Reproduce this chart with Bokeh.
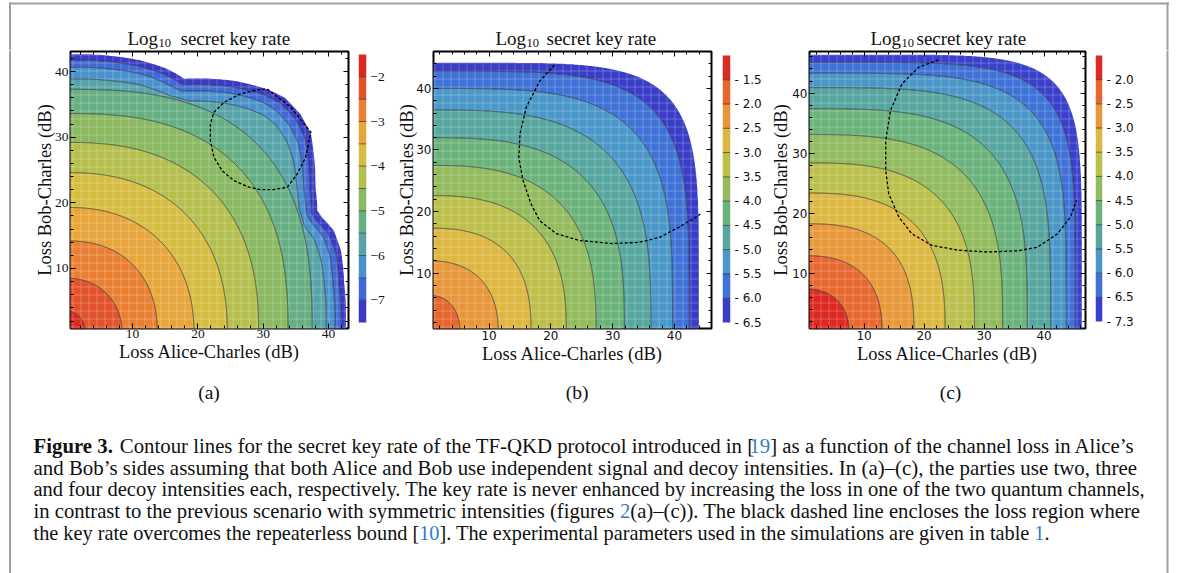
import numpy as np
from bokeh.plotting import figure
from bokeh.layouts import row, column
from bokeh.models import Range1d, LinearAxis, SingleIntervalTicker, FixedTicker
from bokeh.embed import file_html
from bokeh.resources import INLINE
from bokeh.core.properties import value

SERIF = "Liberation Serif"
SANS = "DejaVu Sans"
INK = "#111111"
LINE_INK = "#2a2a2a"
FRAME_GRAY = "#a0a0a0"
LINK_BLUE = "#2f7fc1"
MID = 0.3375   # distance from baseline to the middle of the text box, in em

# ====================== DATA ======================
X_LABEL = "Loss Alice-Charles (dB)"
Y_LABEL = "Loss Bob-Charles (dB)"
# panel titles: "Log" + subscript "10" + rest, with left positions (page pixels)
TITLE_MAIN = "Log"
TITLE_SUB = "10"
TITLE_REST = "secret key rate"
TITLE_LOG_X = [127, 495, 870]
TITLE_SUB_X = [158, 526, 901]
TITLE_REST_X = [180, 546, 916]
PANEL_TAGS = ["(a)", "(b)", "(c)"]
PANEL_TAG_X = [208.5, 576.7, 950.0]

# ---------- panel (a): two decoy intensities ----------
A_XRANGE = (0.5, 43.05)
A_YRANGE = (0.86, 43.05)
A_LEVELS = [-7.5, -7.0, -6.5, -6.0, -5.5, -5.0, -4.5, -4.0, -3.5, -3.0, -2.5, -2.0, -1.5]
A_COLORS = ["#3b3ac6", "#3f69d6", "#4a92cd", "#57a4a8", "#66af82", "#8bb962",
            "#b4bf4e", "#d6bd43", "#e7a63c", "#e97f32", "#e2532b", "#d92a22"]
A_PEAK = -1.6
A_CB_TICKS = [-7, -6, -5, -4, -3, -2]
A_CB_LABELS = ["−7", "−6", "−5", "−4", "−3", "−2"]
# rounded inner contours: crossing with bottom edge, left edge and diagonal
A_IN_LEVELS = [-5.5, -5.0, -4.5, -4.0, -3.5, -3.0, -2.5, -2.0]
A_IN_XCROSS = [37.5, 33.8, 29.3, 24.5, 19.4, 13.8, 8.4, 2.8]
A_IN_YCROSS = [37.3, 33.6, 29.2, 24.6, 19.3, 14.2, 8.5, 3.5]
A_IN_DIAG = [29.0, 25.8, 22.0, 18.2, 14.2, 10.3, 6.1, 2.2]
# outer contours traced point by point (level -7.5 is the edge of the coloured region)
A_L75_X = [0, 6.6, 11.2, 14.8, 16.3, 17.9, 25.5, 28.6, 30.6, 33.2, 35.7, 37.3, 38.0, 38.3, 39.0, 40.8, 41.9, 42.4, 42.6]
A_L75_Y = [42.6, 42.4, 41.7, 40.6, 39.9, 38.9, 38.6, 37.9, 37.3, 36.1, 33.5, 30.5, 22.4, 18.8, 17.8, 15.8, 12.7, 7.7, 0]
A_L70_X = [0, 6.5, 11.0, 14.5, 16.0, 17.6, 25.0, 28.3, 30.3, 32.6, 34.9, 36.4, 37.1, 37.4, 38.2, 40.0, 41.1, 41.6, 41.9]
A_L70_Y = [41.7, 41.5, 40.8, 39.7, 39.0, 38.0, 37.7, 37.0, 36.4, 35.2, 32.8, 29.9, 22.3, 18.4, 17.2, 15.2, 12.4, 7.5, 0]
A_L65_X = [0, 6.5, 11.0, 14.0, 15.8, 17.5, 25.0, 28.0, 30.0, 32.0, 34.0, 35.4, 36.2, 36.6, 37.4, 39.2, 40.2, 40.7, 40.9]
A_L65_Y = [40.6, 40.4, 39.7, 38.7, 37.8, 37.0, 36.7, 36.0, 35.3, 34.0, 31.8, 29.0, 22.2, 18.3, 17.0, 14.8, 12.0, 7.3, 0]
A_L60_X = [0, 6.5, 11.0, 14.0, 16.0, 18.0, 24.0, 27.5, 30.0, 32.0, 33.6, 34.6, 35.2, 35.5, 36.2, 37.8, 38.8, 39.4, 39.6]
A_L60_Y = [38.8, 38.6, 38.0, 37.0, 36.2, 35.5, 35.2, 34.4, 33.4, 31.8, 29.4, 26.5, 22.0, 18.2, 16.6, 14.4, 11.5, 7.0, 0]
# repeaterless-bound region (dashed)
A_BOUND_X = [30.6, 34.2, 37.3, 36.5, 35.2, 33.7, 31.6, 29.6, 27.8, 25.5, 23.7, 22.45, 21.9, 21.9, 22.45, 24.0, 26.5, 29.1, 30.6]
A_BOUND_Y = [37.35, 34.6, 30.75, 26.95, 24.4, 22.4, 22.0, 22.0, 22.4, 23.4, 24.9, 26.95, 29.5, 32.0, 33.8, 35.3, 36.6, 37.2, 37.35]

# ---------- panel (b): three decoy intensities ----------
B_XRANGE = (1.0, 46.0)
B_YRANGE = (1.0, 46.0)
B_LEVELS = [-6.5, -6.0, -5.5, -5.0, -4.5, -4.0, -3.5, -3.0, -2.5, -2.0, -1.5, -1.0]
B_COLORS = ["#3a3dc8", "#3f72d6", "#4a97c9", "#57a6a0", "#6cb37b", "#93bb5d",
            "#bdbf4b", "#ddb741", "#e8963a", "#e6662e", "#d92b22"]
B_PEAK = -1.6
B_CB_TICKS = [-6.5, -6.0, -5.5, -5.0, -4.5, -4.0, -3.5, -3.0, -2.5, -2.0, -1.5]
B_CB_LABELS = ["- 6.5", "- 6.0", "- 5.5", "- 5.0", "- 4.5", "- 4.0", "- 3.5", "- 3.0", "- 2.5", "- 2.0", "- 1.5"]
B_CONT_LEVELS = [-6.5, -6.0, -5.5, -5.0, -4.5, -4.0, -3.5, -3.0, -2.5, -2.0]
B_XCROSS = [44.0, 42.4, 39.7, 36.2, 31.9, 27.3, 22.5, 16.8, 11.5, 5.3]
B_YCROSS = [44.2, 42.8, 40.0, 36.5, 32.0, 27.5, 22.6, 17.3, 12.0, 6.4]
B_DIAG = [38.8, 36.5, 33.2, 29.3, 25.4, 21.4, 17.4, 13.1, 8.8, 4.3]
B_BOUND_X = [20.6, 18.2, 16.0, 15.0, 14.8, 15.5, 16.8, 18.2, 20.9, 24.6, 30.0, 34.3, 37.6, 40.8, 43.5, 44.2]
B_BOUND_Y = [43.8, 41.2, 36.9, 32.6, 28.8, 25.0, 21.2, 18.5, 16.4, 15.3, 14.8, 15.0, 15.8, 17.5, 19.1, 19.6]

# ---------- panel (c): four decoy intensities ----------
C_XRANGE = (0.9, 46.9)
C_YRANGE = (0.9, 46.9)
C_LEVELS = [-7.3, -6.5, -6.0, -5.5, -5.0, -4.5, -4.0, -3.5, -3.0, -2.5, -2.0, -1.5]
C_COLORS = ["#3a40cb", "#3f72d6", "#4a96c7", "#57a59f", "#6bb37c", "#91bb5e",
            "#bbbf4b", "#dcb842", "#e8983a", "#e7682f", "#dc2a22"]
C_PEAK = -1.6
C_CB_TICKS = [-7.3, -6.5, -6.0, -5.5, -5.0, -4.5, -4.0, -3.5, -3.0, -2.5, -2.0]
C_CB_LABELS = ["- 7.3", "- 6.5", "- 6.0", "- 5.5", "- 5.0", "- 4.5", "- 4.0", "- 3.5", "- 3.0", "- 2.5", "- 2.0"]
C_CONT_LEVELS = [-7.3, -6.5, -6.0, -5.5, -5.0, -4.5, -4.0, -3.5, -3.0, -2.5, -2.0]
C_XCROSS = [46.3, 45.2, 43.7, 41.1, 37.2, 33.1, 28.4, 23.5, 18.3, 13.0, 7.5]
C_YCROSS = [46.4, 45.1, 43.3, 40.9, 37.4, 33.1, 28.4, 23.4, 18.3, 13.0, 7.5]
C_DIAG = [41.7, 39.8, 37.4, 34.5, 30.6, 26.6, 22.5, 18.3, 14.2, 9.85, 5.55]
C_BOUND_X = [22.4, 19.1, 16.3, 14.4, 13.6, 13.6, 14.1, 15.8, 18.0, 21.3, 25.7, 30.6, 35.6, 38.9, 42.2, 44.4, 45.4]
C_BOUND_Y = [45.5, 44.3, 41.5, 37.1, 32.1, 27.2, 23.3, 19.4, 16.6, 14.7, 13.9, 13.6, 13.8, 14.4, 16.6, 19.4, 22.2]

# ---------- caption (segments: text, advance in em, weight, colour) ----------
CAPTION_LINES = [
    [("Figure 3.", 4.15, "bold", INK),
     ("Contour lines for the secret key rate of the TF-QKD protocol introduced in [", 30.27, "normal", INK),
     ("19", 1.0, "normal", LINK_BLUE),
     ("] as a function of the channel loss in Alice’s", 17.5, "normal", INK)],
    [("and Bob’s sides assuming that both Alice and Bob use independent signal and decoy intensities. In (a)–(c), the parties use two, three", 52.8, "normal", INK)],
    [("and four decoy intensities each, respectively. The key rate is never enhanced by increasing the loss in one of the two quantum channels,", 54.2, "normal", INK)],
    [("in contrast to the previous scenario with symmetric intensities (figures ", 28.4, "normal", INK),
     ("2", 0.5, "normal", LINK_BLUE),
     ("(a)–(c)). The black dashed line encloses the loss region where", 24.65, "normal", INK)],
    [("the key rate overcomes the repeaterless bound [", 19.0, "normal", INK),
     ("10", 1.0, "normal", LINK_BLUE),
     ("]. The experimental parameters used in the simulations are given in table ", 29.3, "normal", INK),
     ("1", 0.5, "normal", LINK_BLUE),
     (".", 0.25, "normal", INK)],
]
CAPTION_SIZES = [20.8, 20.9, 20.5, 20.65, 20.3]
CAPTION_BASELINES = [452.5, 474.2, 495.9, 517.6, 539.3]
CAPTION_LEFT = 33

# ====================== FIELD CONSTRUCTION ======================
GRID = np.linspace(0.0, 48.0, 481)


def solve_p(a, b, d):
    lo, hi = 0.3, 30.0
    for _ in range(80):
        p = 0.5 * (lo + hi)
        f = (d / a) ** p + (d / b) ** p - 1.0
        if f > 0:
            lo = p
        else:
            hi = p
    return 0.5 * (lo + hi)


def super_radius(a, b, d):
    p = solve_p(a, b, d)

    def f(th):
        c = np.abs(np.cos(th))
        s = np.abs(np.sin(th))
        return ((c / a) ** p + (s / b) ** p) ** (-1.0 / p)
    return f


def poly_radius(xs, ys):
    xs = np.asarray(xs, float)
    ys = np.asarray(ys, float)
    th = np.arctan2(ys, xs)
    r = np.hypot(xs, ys)
    o = np.argsort(th)

    def f(t):
        return np.interp(t, th[o], r[o])
    return f


def build_z(funcs, levels, peak):
    # funcs/levels ordered from the outermost contour to the innermost one
    X, Y = np.meshgrid(GRID, GRID)
    TH = np.arctan2(Y, X)
    R = np.hypot(X, Y)
    Rs = [f(TH) for f in funcs][::-1]
    L = list(levels)[::-1]
    for i in range(1, len(Rs)):
        Rs[i] = np.maximum(Rs[i], Rs[i - 1] + 0.3)
    Z = peak + (L[0] - peak) * R / Rs[0]
    for i in range(len(Rs) - 1):
        m = (R > Rs[i]) & (R <= Rs[i + 1])
        t = (R - Rs[i]) / (Rs[i + 1] - Rs[i])
        Z = np.where(m, L[i] + t * (L[i + 1] - L[i]), Z)
    Z = np.where(R > Rs[-1], L[-1] - 0.02 - (R - Rs[-1]) * 0.3, Z)
    return Z


A_FUNCS = [poly_radius(A_L75_X, A_L75_Y), poly_radius(A_L70_X, A_L70_Y),
           poly_radius(A_L65_X, A_L65_Y), poly_radius(A_L60_X, A_L60_Y)]
A_FUNCS += [super_radius(a, b, d) for a, b, d in zip(A_IN_XCROSS, A_IN_YCROSS, A_IN_DIAG)]
A_Z = build_z(A_FUNCS, [-7.5, -7.0, -6.5, -6.0] + A_IN_LEVELS, A_PEAK)
B_Z = build_z([super_radius(a, b, d) for a, b, d in zip(B_XCROSS, B_YCROSS, B_DIAG)], B_CONT_LEVELS, B_PEAK)
C_Z = build_z([super_radius(a, b, d) for a, b, d in zip(C_XCROSS, C_YCROSS, C_DIAG)], C_CONT_LEVELS, C_PEAK)

# ====================== LAYOUT ======================
W_PAGE = 1182
H_HEAD = 50     # page y 0..50 : frame top line + titles
H_ROW = 325     # page y 50..375 : panels (frames at page y 51..328)
H_CAP = 198     # page y 375..573 : panel tags + caption
MB_TOP = 1
MB_BOTTOM = 47
FRAME_TOP = H_HEAD + MB_TOP
FRAME_BOTTOM = H_HEAD + H_ROW - MB_BOTTOM


def bare(width, height, xr, yr):
    f = figure(width=width, height=height, x_range=Range1d(*xr), y_range=Range1d(*yr), min_border=0,
               x_axis_type=None, y_axis_type=None, toolbar_location=None, output_backend="svg")
    f.outline_line_color = None
    return f


def put_text(fig, xs, baseline, texts, size, align="left", style="normal", color=INK):
    # place texts by their alphabetic baseline (page pixels) using a middle-anchored text box
    fig.text(x=xs, y=[baseline - MID * size] * len(xs), text=texts, text_font=value(SERIF),
             text_font_size=f"{size}px", text_font_style=style, text_color=color,
             text_baseline="middle", text_align=align)


def style_axis(ax, font, size, labels=True, standoff=1):
    ax.axis_line_color = None
    ax.major_tick_in = 5
    ax.major_tick_out = 0
    ax.minor_tick_in = 3
    ax.minor_tick_out = 0
    ax.major_tick_line_color = "black"
    ax.minor_tick_line_color = "black"
    ax.major_tick_line_width = 1
    ax.minor_tick_line_width = 1
    ax.major_label_text_font = font
    ax.major_label_text_font_size = size if labels else "1px"
    ax.major_label_text_color = INK if labels else None
    ax.major_label_standoff = standoff if labels else 0


def panel(width, mb_left, xr, yr, z, levels, colors, bx, by, tfont, tsize, tstand, ylab_standoff):
    p = figure(width=width, height=H_ROW, x_range=Range1d(*xr), y_range=Range1d(*yr),
               min_border_left=mb_left, min_border_right=5, min_border_top=MB_TOP, min_border_bottom=MB_BOTTOM,
               toolbar_location=None, output_backend="svg", title_location=None)
    p.grid.visible = False
    p.outline_line_color = "black"
    p.outline_line_width = 2
    p.contour(GRID, GRID, z, levels=levels, fill_color=colors, line_color=None,
              hatch_pattern="+", hatch_color="white", hatch_alpha=0.33, hatch_scale=8, hatch_weight=0.7)
    p.contour(GRID, GRID, z, levels=levels[1:-1], line_color=LINE_INK, line_alpha=0.7, line_width=1.0)
    p.line(bx, by, line_color="black", line_width=1.3, line_dash="3 2")

    style_axis(p.xaxis[0], tfont, tsize, standoff=tstand)
    style_axis(p.yaxis[0], tfont, tsize, standoff=2)
    p.xaxis[0].ticker = SingleIntervalTicker(interval=10, num_minor_ticks=5)
    p.yaxis[0].ticker = SingleIntervalTicker(interval=10, num_minor_ticks=5)
    for ax, lab in ((p.xaxis[0], X_LABEL), (p.yaxis[0], Y_LABEL)):
        ax.axis_label = lab
        ax.axis_label_text_font = SERIF
        ax.axis_label_text_font_size = "18.5px"
        ax.axis_label_text_font_style = "normal"
        ax.axis_label_text_color = INK
        ax.axis_label_standoff = 1
    p.yaxis[0].axis_label_standoff = ylab_standoff
    top = LinearAxis(ticker=SingleIntervalTicker(interval=10, num_minor_ticks=5))
    right = LinearAxis(ticker=SingleIntervalTicker(interval=10, num_minor_ticks=5))
    style_axis(top, tfont, tsize, labels=False)
    style_axis(right, tfont, tsize, labels=False)
    p.add_layout(top, "above")
    p.add_layout(right, "right")
    return p


def colorbar(width, left, right, bar_top, bar_bottom, levels, colors, ticks, labels, font, size):
    # same frame as the panels (plots in a row share frame alignment); the bar sits inside it
    n = len(colors)
    scale = (bar_bottom - bar_top) / n
    y0 = -(FRAME_BOTTOM - bar_bottom) / scale
    y1 = n + (bar_top - FRAME_TOP) / scale
    cb = figure(width=width, height=H_ROW, x_range=Range1d(0, 1), y_range=Range1d(y0, y1),
                min_border_left=left, min_border_right=right, min_border_top=MB_TOP, min_border_bottom=MB_BOTTOM,
                x_axis_type=None, y_axis_location="right", toolbar_location=None, output_backend="svg",
                title_location=None)
    cb.grid.visible = False
    cb.outline_line_color = None
    idx = np.arange(n)
    cb.quad(left=0, right=1, bottom=idx, top=idx + 1, fill_color=colors, line_color=None)
    cb.segment(x0=0, x1=1, y0=idx[1:], y1=idx[1:], line_color=LINE_INK, line_alpha=0.65, line_width=1)
    pos = [levels.index(t) for t in ticks]
    ax = cb.yaxis[0]
    ax.ticker = FixedTicker(ticks=pos, minor_ticks=[])
    ax.major_label_overrides = {int(i): s for i, s in zip(pos, labels)}
    ax.axis_line_color = None
    ax.major_tick_in = 0
    ax.major_tick_out = 0
    ax.minor_tick_in = 0
    ax.minor_tick_out = 0
    ax.major_label_text_font = font
    ax.major_label_text_font_size = size
    ax.major_label_text_color = INK
    ax.major_label_standoff = 4
    return cb


fig_a = panel(341, 58, A_XRANGE, A_YRANGE, A_Z, A_LEVELS, A_COLORS, A_BOUND_X, A_BOUND_Y, SERIF, "13.5px", 1, -3)
cb_a = colorbar(37, 5, 24, 54, 322, A_LEVELS, A_COLORS, A_CB_TICKS, A_CB_LABELS, SERIF, "13.5px")
fig_b = panel(326, 43, B_XRANGE, B_YRANGE, B_Z, B_LEVELS, B_COLORS, B_BOUND_X, B_BOUND_Y, SANS, "12px", 2, -4)
cb_b = colorbar(52, 6, 38, 55, 322, B_LEVELS, B_COLORS, B_CB_TICKS, B_CB_LABELS, SANS, "12px")
fig_c = panel(322, 39, C_XRANGE, C_YRANGE, C_Z, C_LEVELS, C_COLORS, C_BOUND_X, C_BOUND_Y, SANS, "12px", 2, -2)
cb_c = colorbar(74, 5, 62, 55, 321, C_LEVELS, C_COLORS, C_CB_TICKS, C_CB_LABELS, SANS, "12px")

# header: frame top edge + panel titles
head = bare(W_PAGE, H_HEAD, (0, W_PAGE), (H_HEAD, 0))
head.quad(left=[8.5, 8.5, 1166], right=[1168.5, 10.5, 1168], bottom=[2, 2, 2], top=[4, H_HEAD, H_HEAD],
          fill_color=FRAME_GRAY, line_color=None)
put_text(head, TITLE_LOG_X, 44, [TITLE_MAIN] * 3, 19)
put_text(head, TITLE_SUB_X, 47, [TITLE_SUB] * 3, 12.5)
put_text(head, TITLE_REST_X, 44, [TITLE_REST] * 3, 19)

# side strips of the frame
H_BODY = H_ROW + H_CAP
left_strip = bare(12, H_BODY, (0, 12), (H_BODY, 0))
left_strip.quad(left=[8.5], right=[10.5], bottom=[0], top=[H_BODY], fill_color=FRAME_GRAY, line_color=None)
right_strip = bare(18, H_BODY, (1164, 1182), (H_BODY, 0))
right_strip.quad(left=[1166], right=[1168], bottom=[0], top=[H_BODY], fill_color=FRAME_GRAY, line_color=None)

# caption area (page coordinates)
cap = bare(1152, H_CAP, (12, 1164), (573, 375))
put_text(cap, PANEL_TAG_X, 398.5, PANEL_TAGS, 19.5, align="center")
for segs, size, yb in zip(CAPTION_LINES, CAPTION_SIZES, CAPTION_BASELINES):
    x = CAPTION_LEFT
    for txt, em, style, col in segs:
        put_text(cap, [x], yb, [txt], size, style=style, color=col)
        x += em * size

top_row = row(fig_a, cb_a, fig_b, cb_b, fig_c, cb_c, spacing=0)
middle = column(top_row, cap, spacing=0)
body = row(left_strip, middle, right_strip, spacing=0)
page = column(head, body, spacing=0)

open("out.html", "w").write(file_html(page, INLINE, "Figure 3"))
